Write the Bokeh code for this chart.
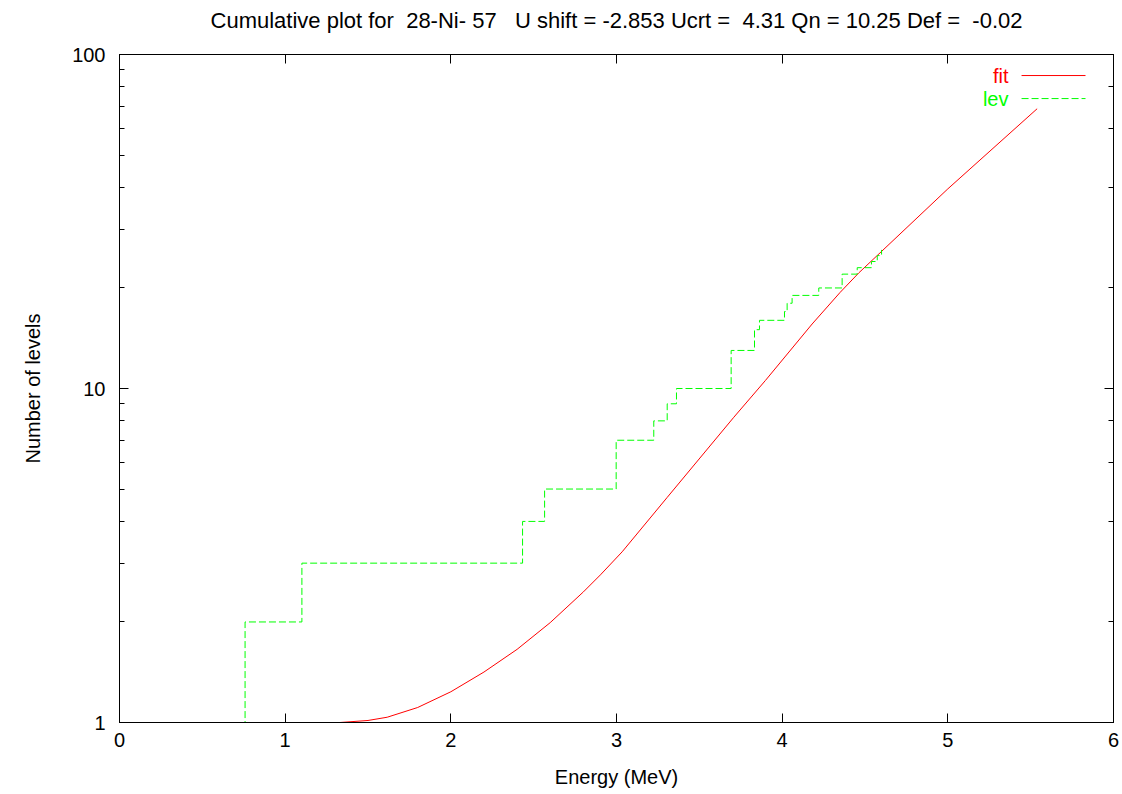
from bokeh.plotting import figure
from bokeh.models import LinearAxis, LogAxis, PrintfTickFormatter, CustomJSTickFormatter, FixedTicker
from bokeh.core.properties import value
from bokeh.embed import file_html
from bokeh.resources import INLINE

NBSP = "\u00a0"

# ---- data ----
title_text = ("Cumulative plot for " + NBSP + "28-Ni- 57 " + NBSP + NBSP +
              "U shift = -2.853 Ucrt = " + NBSP + "4.31 Qn = 10.25 Def = " + NBSP + "-0.02")
x_label = "Energy (MeV)"
y_label = "Number of levels"
x_ticks = [0, 1, 2, 3, 4, 5, 6]
y_ticks = [1, 10, 100]

fit_E = [0.0, 1.33, 1.5, 1.616, 1.8, 2.0, 2.2, 2.4, 2.6, 2.8, 2.903, 3.034, 3.306,
         3.708, 3.899, 4.181, 4.35, 4.463, 5.0, 5.539]
fit_N = [1.0, 1.0, 1.014, 1.037, 1.109, 1.236, 1.416, 1.656, 1.991, 2.46, 2.767, 3.243, 4.72,
         8.2, 10.57, 15.6, 19.4, 22.2, 39.6, 68.8]

lev_E = [0.0, 0.758, 1.101, 2.433, 2.566, 2.998, 3.225, 3.306, 3.362, 3.692, 3.833,
         3.863, 4.014, 4.030, 4.060, 4.221, 4.362, 4.453, 4.539, 4.574, 4.600]
lev_N = [1, 2, 3, 4, 5, 7, 8, 9, 10, 13, 15, 16, 17, 18, 19, 20, 22, 23, 24, 25, 26]

legend_labels = ["fit", "lev"]
RED = "#ff0000"
GREEN = "#00ff00"
FONT = "Liberation Sans"

p = figure(width=1120, height=790, x_range=(0, 6), y_range=(1, 100),
           y_axis_type="log", output_backend="svg", toolbar_location=None,
           title=None,
           min_border_left=119, min_border_right=7, min_border_top=54,
           min_border_bottom=68)
p.background_fill_color = "white"
p.border_fill_color = "white"
p.outline_line_color = "black"
p.outline_line_width = 1
p.xgrid.visible = False
p.ygrid.visible = False

def style_axis(ax, minor):
    ax.axis_line_color = "black"
    ax.major_tick_line_color = "black"
    ax.major_tick_in = 9
    ax.major_tick_out = 0
    if minor:
        ax.minor_tick_line_color = "black"
        ax.minor_tick_in = 5
        ax.minor_tick_out = 0
    else:
        ax.minor_tick_line_color = None
    ax.major_label_text_font = FONT
    ax.major_label_text_font_size = "20px"
    ax.major_label_text_color = "black"
    ax.axis_label_text_font = FONT
    ax.axis_label_text_font_size = "20px"
    ax.axis_label_text_font_style = "normal"
    ax.axis_label_text_color = "black"

xa = p.xaxis[0]
style_axis(xa, False)
xa.ticker = FixedTicker(ticks=x_ticks)
xa.major_label_standoff = 10
xa.axis_label = x_label
xa.axis_label_standoff = 16

ya = p.yaxis[0]
style_axis(ya, True)
ya.formatter = PrintfTickFormatter(format="%d")
ya.major_label_standoff = 14
ya.axis_label = y_label
ya.axis_label_standoff = 25

blank = CustomJSTickFormatter(code="return ''")
# top (mirror) axis also carries the chart title, centred over the frame
top = LinearAxis(ticker=FixedTicker(ticks=x_ticks), formatter=blank)
style_axis(top, False)
top.major_label_text_font_size = "0px"
top.major_label_standoff = 0
top.axis_label = title_text
top.axis_label_text_font_size = "22px"
top.axis_label_standoff = 22
p.add_layout(top, "above")

right = LogAxis(formatter=blank)
style_axis(right, True)
right.major_label_text_font_size = "0px"
right.major_label_standoff = 0
p.add_layout(right, "right")

# curves
p.line(fit_E, fit_N, line_color=RED, line_width=1)
p.step(lev_E, lev_N, mode="after", line_color=GREEN, line_width=1, line_dash="7 3")

# legend (gnuplot style: label then sample line), placed in the upper right
lx0, lx1, ltx = 5.445, 5.831, 5.366
ly = [86.5, 73.8]
p.segment(x0=[lx0], y0=[ly[0]], x1=[lx1], y1=[ly[0]], line_color=RED, line_width=1)
p.segment(x0=[lx0], y0=[ly[1]], x1=[lx1], y1=[ly[1]], line_color=GREEN, line_width=1,
          line_dash="7 3")
p.text(x=[ltx, ltx], y=ly, text=legend_labels, text_color=[RED, GREEN],
       text_font=value(FONT), text_font_size="20px", text_align="right",
       text_baseline="middle")

open("out.html", "w").write(file_html(p, INLINE))
